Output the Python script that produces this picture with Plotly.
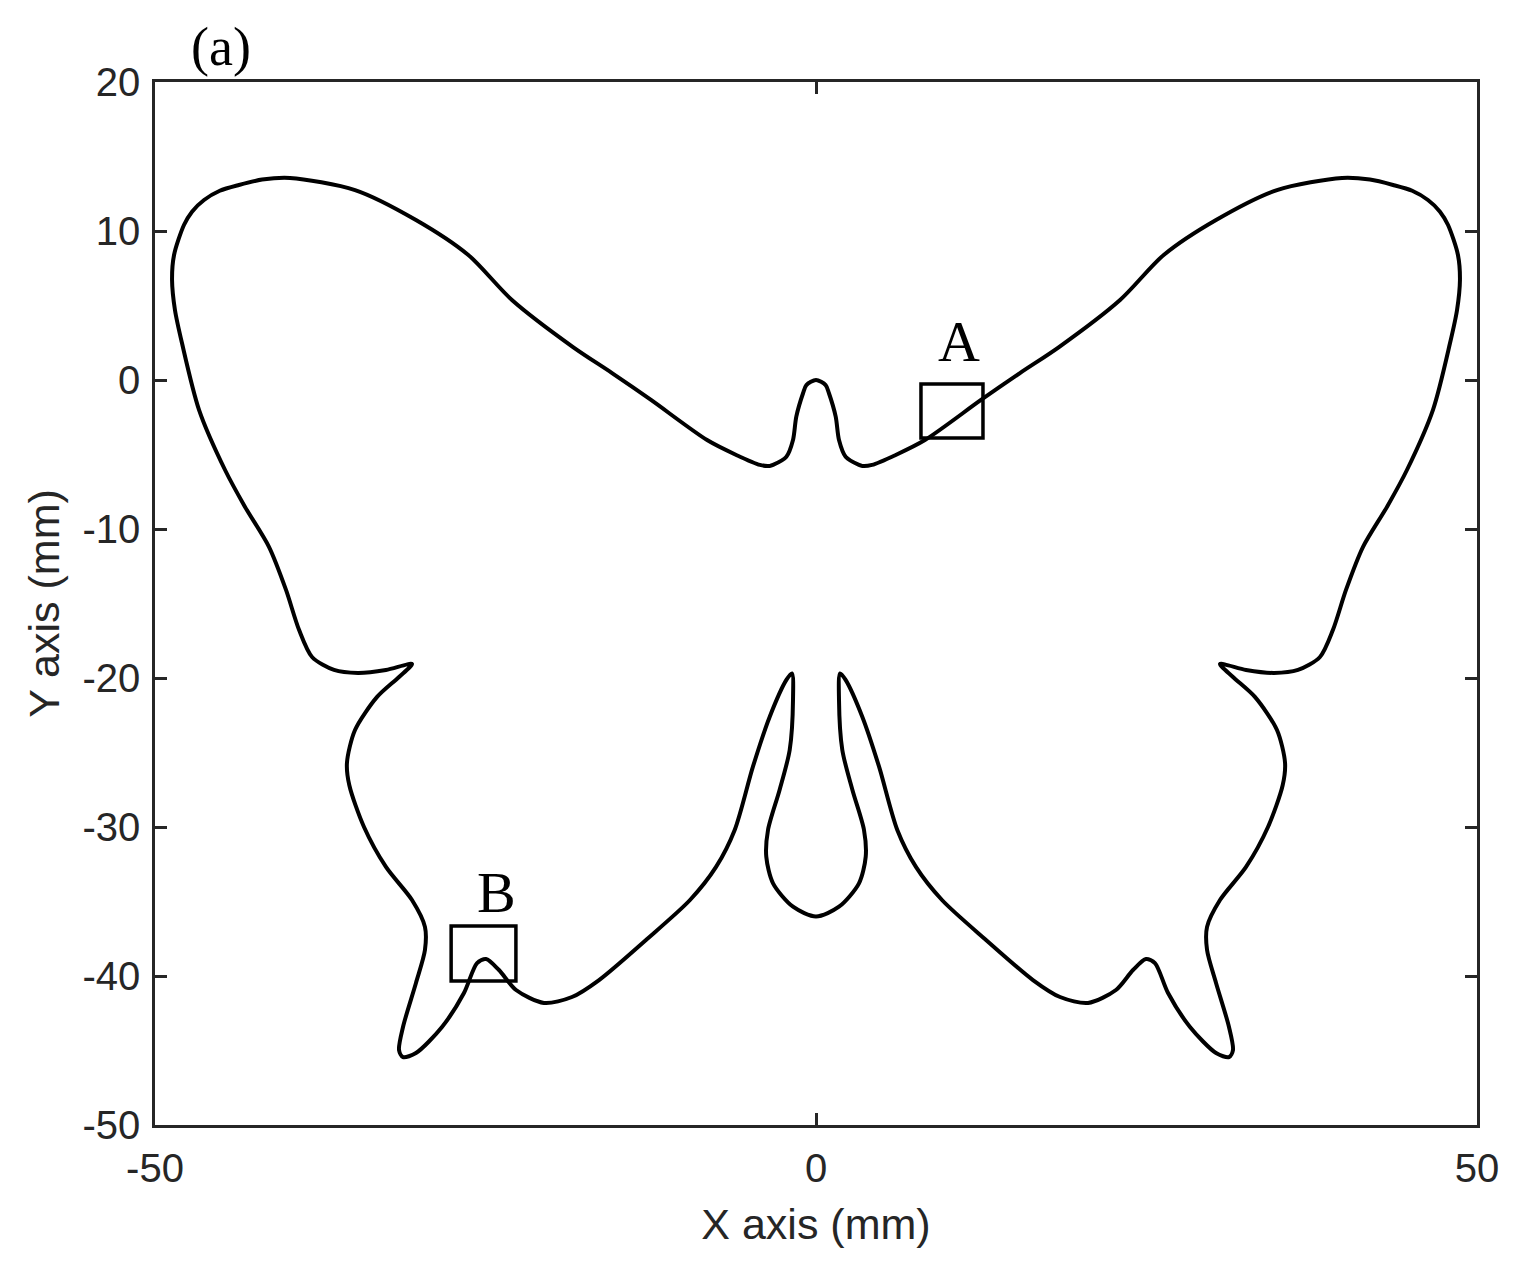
import plotly.graph_objects as go

# Right half of the butterfly outline (mm), traced from the top of the
# antenna clockwise down to the bottom of the body. The left half is the
# mirror image.
x_right = [
    0.0, 0.73, 0.98, 1.49, 1.74, 2.24, 3.25, 3.5, 4.24, 6.03, 8.24, 12.48,
    15.4, 18.38, 23.0, 26.3, 30.26, 34.87, 39.79, 41.9, 43.65, 45.1, 46.29, 47.2, 47.81,
    48.56, 48.71, 48.49, 47.96, 46.67, 44.7, 43.2, 41.38, 40.09, 39.1, 38.12, 36.46, 34.64,
    32.53, 30.56, 31.54, 33.2, 34.87, 35.48, 35.3, 34.19, 32.53, 30.56,
    29.58, 29.58, 30.26, 31.24, 31.54, 31.24, 30.26, 28.29, 26.63, 25.64,
    24.96, 23.98, 22.69, 20.58, 18.46, 16.41, 12.86, 9.53, 7.56, 6.15,
    4.77, 3.5, 2.24, 1.82, 1.74, 1.99, 2.75, 3.63, 3.76, 3.25, 1.74, 0.0,
]
y_right = [
    0.0, -0.34, -0.89, -2.46, -4.03, -5.15, -5.7, -5.77, -5.7, -5.03, -4.03, -1.34,
    0.45, 2.21, 5.37, 8.39, 10.74, 12.75, 13.56, 13.45, 13.09, 12.7, 12.08, 11.3, 10.4,
    8.39, 6.71, 4.7, 2.48, -2.0, -6.04, -8.5, -11.2, -14.09, -16.78, -18.59, -19.46, -19.66,
    -19.46, -19.06, -19.93, -21.27, -23.49, -25.7, -27.2, -30.0, -32.68, -34.9,
    -36.7, -38.26, -40.47, -43.42, -44.97, -45.44, -45.17, -43.42, -41.14, -39.13,
    -38.86, -39.6, -40.94, -41.81, -41.41, -40.27, -37.58, -34.9, -32.68, -30.2,
    -25.95, -22.6, -20.13, -19.69, -21.48, -24.83, -27.5, -30.2, -32.0, -33.78, -35.35, -36.0,
]

x_outline = x_right + [-v for v in reversed(x_right[:-1])]
y_outline = y_right + list(reversed(y_right[:-1]))

# detail windows A and B: [x0, x1, y0, y1]
box_a = [7.94, 12.63, -3.89, -0.27]
box_b = [-27.6, -22.7, -40.34, -36.64]
label_a = (10.82, 2.57)
label_b = (-24.2, -34.4)

x_ticks = [-50, 0, 50]
x_tick_text = ["-50", "0", "50"]
y_ticks = [-50, -40, -30, -20, -10, 0, 10, 20]
y_tick_text = ["-50", "-40", "-30", "-20", "-10", "0", "10", "20"]

AXIS_COLOR = "#262626"
SANS = "Arial, Liberation Sans, sans-serif"
SERIF = "Times New Roman, Liberation Serif, serif"

fig = go.Figure()

fig.add_trace(
    go.Scatter(
        x=x_outline,
        y=y_outline,
        mode="lines",
        line=dict(color="black", width=4, shape="spline", smoothing=0.8),
        showlegend=False,
        hoverinfo="skip",
    )
)

for box in (box_a, box_b):
    fig.add_shape(
        type="rect",
        xref="x",
        yref="y",
        x0=box[0],
        x1=box[1],
        y0=box[2],
        y1=box[3],
        line=dict(color="black", width=3.5),
    )

for text, pos in (("A", label_a), ("B", label_b)):
    fig.add_annotation(
        x=pos[0],
        y=pos[1],
        text=text,
        showarrow=False,
        font=dict(family=SERIF, size=58, color="black"),
    )

# panel label, sits above the frame
fig.add_annotation(
    xref="paper",
    yref="paper",
    x=0.05,
    y=1.034,
    xanchor="center",
    yanchor="middle",
    text="(a)",
    showarrow=False,
    font=dict(family=SERIF, size=54, color="black"),
)

axis_common = dict(
    showline=True,
    linecolor=AXIS_COLOR,
    linewidth=2.5,
    mirror="ticks",
    ticks="inside",
    ticklen=12,
    tickwidth=2.5,
    tickcolor=AXIS_COLOR,
    showgrid=False,
    zeroline=False,
    tickfont=dict(family=SANS, size=40, color=AXIS_COLOR),
)

fig.update_xaxes(
    range=[-50, 50],
    tickvals=x_ticks,
    ticktext=x_tick_text,
    title=dict(text="X axis (mm)", font=dict(family=SANS, size=43, color=AXIS_COLOR), standoff=21),
    ticklabelstandoff=6,
    **axis_common,
)
fig.update_yaxes(
    range=[-50, 20],
    tickvals=y_ticks,
    ticktext=y_tick_text,
    title=dict(text="Y axis (mm)", font=dict(family=SANS, size=43, color=AXIS_COLOR), standoff=10),
    ticklabelstandoff=4,
    **axis_common,
)

# the page body keeps an 8px margin, so the figure is sized to fit inside it
fig.update_layout(
    width=1509,
    height=1250,
    margin=dict(l=147, r=40, t=74, b=133),
    plot_bgcolor="white",
    paper_bgcolor="white",
    showlegend=False,
)

fig.write_html("out.html")
